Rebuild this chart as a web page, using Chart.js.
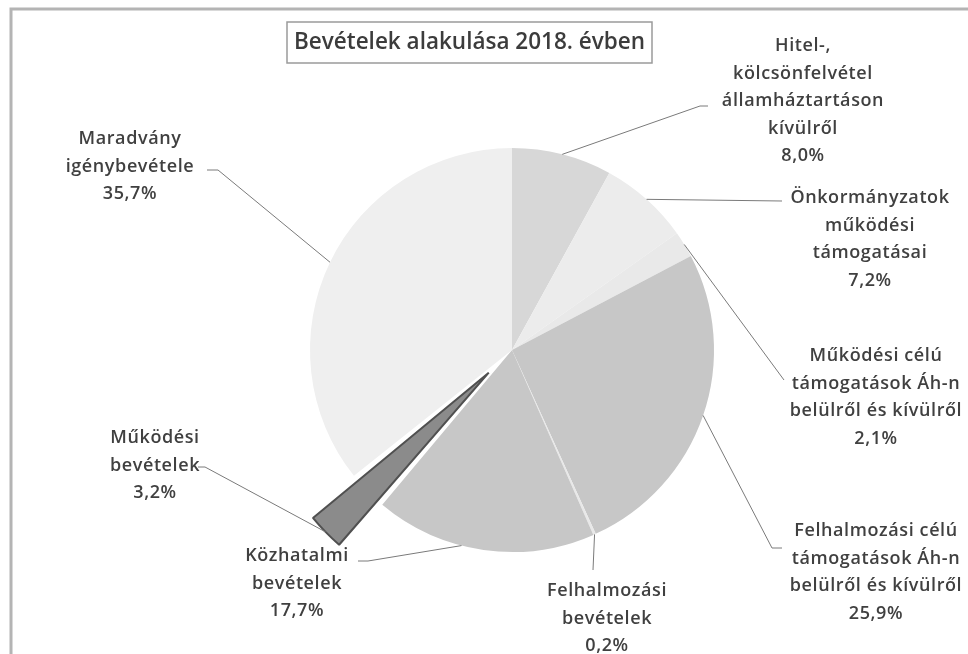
<!DOCTYPE html>
<html lang="hu">
<head>
<meta charset="utf-8">
<title>Bevételek alakulása 2018. évben</title>
<script src="https://cdn.jsdelivr.net/npm/chart.js@4.4.1/dist/chart.umd.min.js"></script>
<style>
    html, body { margin: 0; padding: 0; background: #fff; }
    canvas { display: block; }
</style>
</head>
<body>
<canvas id="pieChart" width="968" height="654"></canvas>
<script>
// Chart title
const chartTitle = 'Bevételek alakulása 2018. évben';

// Categories (each label split into its printed lines), clockwise from 12 o'clock
const categories = [
    ['Hitel-,', 'kölcsönfelvétel', 'államháztartáson', 'kívülről'],
    ['Önkormányzatok', 'működési', 'támogatásai'],
    ['Működési célú', 'támogatások Áh-n', 'belülről és kívülről'],
    ['Felhalmozási célú', 'támogatások Áh-n', 'belülről és kívülről'],
    ['Felhalmozási', 'bevételek'],
    ['Közhatalmi', 'bevételek'],
    ['Működési', 'bevételek'],
    ['Maradvány', 'igénybevétele']
];

// Share of each category (%)
const shares = [8.0, 7.2, 2.1, 25.9, 0.2, 17.7, 3.2, 35.7];

// Slice colours (grey scan look)
const sliceColors = ['#d7d7d7', '#ececec', '#e9e9e9', '#c7c7c7', '#e8e8e8', '#c7c7c7', '#8b8b8b', '#efefef'];

// Where each label sits: text centre x, first line y, leader end point and short tick end
const labelPlaces = [
    { x: 803, y: 46, ex: 700, ey: 106, tx: 708, at: 0.5 },
    { x: 870, y: 198, ex: 782, ey: 201, tx: 782, at: 0.5 },
    { x: 876, y: 356, ex: 784, ey: 380, tx: 784, at: 0.5 },
    { x: 876, y: 531, ex: 772, ey: 548, tx: 782, at: 0.5 },
    { x: 607, y: 591, ex: 593, ey: 570, tx: 593, at: 0.5 },
    { x: 297, y: 556, ex: 368, ey: 561, tx: 358, at: 0.6 },
    { x: 155, y: 438, ex: 205, ey: 467, tx: 198, at: 0.5 },
    { x: 130, y: 139, ex: 218, ey: 170, tx: 207, at: 0.5 }
];

const labelFont = '600 18px "Open Sans", sans-serif';
const lineHeight = 27.5;

// Format a share the Hungarian way (decimal comma)
const formatShare = (v) => v.toFixed(1).replace('.', ',') + '%';

// Outer frame and boxed title
const framePlugin = {
    id: 'frame',
    beforeDraw(chart) {
        const ctx = chart.ctx;
        ctx.save();
        ctx.strokeStyle = '#b4b4b4';
        ctx.lineWidth = 3;
        ctx.beginPath();
        ctx.moveTo(11, 654);
        ctx.lineTo(11, 9);
        ctx.lineTo(968, 9);
        ctx.stroke();
        ctx.restore();
    },
    afterDraw(chart) {
        const ctx = chart.ctx;
        ctx.save();
        ctx.fillStyle = '#fff';
        ctx.fillRect(287, 22, 365, 41);
        ctx.strokeStyle = '#9a9a9a';
        ctx.lineWidth = 1.5;
        ctx.strokeRect(287, 22, 365, 41);
        ctx.fillStyle = '#3c3c3c';
        ctx.font = '600 22.5px "Open Sans", sans-serif';
        ctx.textAlign = 'center';
        ctx.textBaseline = 'middle';
        ctx.fillText(chartTitle, 469.5, 43);
        ctx.restore();
    }
};

// Outside labels with leader lines, starting from the slice edge
const outsideLabels = {
    id: 'outsideLabels',
    afterDatasetsDraw(chart) {
        const ctx = chart.ctx;
        const meta = chart.getDatasetMeta(0);
        ctx.save();
        meta.data.forEach((arc, i) => {
            const place = labelPlaces[i];
            const a = arc.startAngle + (arc.endAngle - arc.startAngle) * place.at;
            const mid = (arc.startAngle + arc.endAngle) / 2;
            const circ = arc.endAngle - arc.startAngle;
            const off = (arc.options.offset || 0) / 4;
            const r = arc.outerRadius + off * (1 - Math.sin(Math.min(Math.PI, circ)));
            const sx = arc.x + Math.cos(mid) * off + Math.cos(a) * r;
            const sy = arc.y + Math.sin(mid) * off + Math.sin(a) * r;

            // leader line
            ctx.strokeStyle = '#7a7a7a';
            ctx.lineWidth = 1;
            ctx.beginPath();
            ctx.moveTo(sx, sy);
            ctx.lineTo(place.ex, place.ey);
            ctx.lineTo(place.tx, place.ey);
            ctx.stroke();

            // text lines + percentage
            const lines = categories[i].concat([formatShare(shares[i])]);
            ctx.fillStyle = '#404040';
            ctx.font = labelFont;
            ctx.letterSpacing = '0.6px';
            ctx.textAlign = 'center';
            ctx.textBaseline = 'middle';
            lines.forEach((txt, j) => {
                ctx.fillText(txt, place.x, place.y + j * lineHeight);
            });
            ctx.letterSpacing = '0px';
        });
        ctx.restore();
    }
};

const ctx = document.getElementById('pieChart').getContext('2d');
const chartInstance = new Chart(ctx, {
    type: 'pie',
    data: {
        labels: categories.map(c => c.join(' ')),
        datasets: [{
            data: shares,
            backgroundColor: sliceColors,
            borderWidth: shares.map((v, i) => i === 6 ? 2 : 0),
            borderColor: shares.map((v, i) => i === 6 ? '#505050' : 'rgba(0,0,0,0)'),
            offset: shares.map((v, i) => i === 6 ? 130 : 0),
            radius: 202
        }]
    },
    options: {
        responsive: false,
        animation: false,
        layout: { padding: { left: 56, right: 0, top: 46, bottom: 0 } },
        plugins: {
            legend: { display: false },
            title: { display: false },
            tooltip: { enabled: false }
        }
    },
    plugins: [framePlugin, outsideLabels]
});
</script>
</body>
</html>
